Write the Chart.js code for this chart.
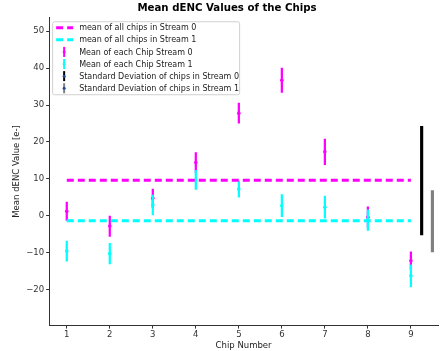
<!DOCTYPE html>
<html>
<head>
<meta charset="UTF-8">
<title>Mean dENC Values of the Chips</title>
<script src="https://cdn.jsdelivr.net/npm/chart.js"></script>
<style>
  body { margin: 0; background: #fff; }
  #wrap { width: 442px; height: 351px; }
</style>
</head>
<body>
<div id="wrap"><canvas id="c" width="442" height="351"></canvas></div>
<script>
// data
var chips = [1, 2, 3, 4, 5, 6, 7, 8, 9];
var mean0 = [1.2, -2.8, 4.7, 14.4, 27.8, 36.7, 17.3, -0.4, -12.2];
var err0  = [2.5, 2.8, 2.5, 2.7, 2.7, 3.3, 3.5, 2.8, 2.4];
var mean1 = [-9.6, -10.3, 2.9, 9.7, 7.2, 2.7, 2.3, -1.2, -16.3];
var err1  = [2.7, 2.8, 2.7, 2.6, 2.2, 3.0, 3.0, 2.8, 3.0];
var allMean0 = 9.6;
var allMean1 = -1.4;
var stdX   = [9.25, 9.5];
var stdMid = [9.5, -1.5];
var stdHalf = [14.7, 8.3];
var yTicks = [-20, -10, 0, 10, 20, 30, 40, 50];
var xTicks = [1, 2, 3, 4, 5, 6, 7, 8, 9];

var legendItems = [
  { kind: "dash", color: "#ff00ff", text: "mean of all chips in Stream 0" },
  { kind: "dash", color: "#00ffff", text: "mean of all chips in Stream 1" },
  { kind: "err", color: "#ff00ff", text: "Mean of each Chip Stream 0" },
  { kind: "err", color: "#00ffff", text: "Mean of each Chip Stream 1" },
  { kind: "err", color: "#000000", dot: "#1f4e9a", text: "Standard Deviation of chips in Stream 0" },
  { kind: "err", color: "#808080", dot: "#1f4e9a", text: "Standard Deviation of chips in Stream 1" }
];

function errData(m, e) {
  return chips.map(function (x, i) { return { x: x, y: [m[i] - e[i], m[i] + e[i]] }; });
}
function ptData(m) {
  return chips.map(function (x, i) { return { x: x, y: m[i] }; });
}

// matplotlib-like legend drawn on the canvas
var legendPlugin = {
  id: "mplLegend",
  afterDraw: function (chart) {
    var ctx = chart.ctx, a = chart.chartArea;
    var x0 = a.left + 3, y0 = a.top + 4, w = 187, h = 73, rowH = 12.1;
    ctx.save();
    ctx.fillStyle = "rgba(255,255,255,0.8)";
    ctx.strokeStyle = "#d0d0d0";
    ctx.lineWidth = 1;
    ctx.beginPath();
    ctx.roundRect(x0 + 0.5, y0 + 0.5, w, h, 2);
    ctx.fill();
    ctx.stroke();
    ctx.font = "8px 'DejaVu Sans'";
    ctx.textBaseline = "middle";
    legendItems.forEach(function (it, i) {
      var cy = y0 + 6.5 + i * rowH;
      if (it.kind === "dash") {
        ctx.strokeStyle = it.color;
        ctx.lineWidth = 3;
        ctx.setLineDash([7, 4]);
        ctx.beginPath();
        ctx.moveTo(x0 + 4, cy);
        ctx.lineTo(x0 + 21, cy);
        ctx.stroke();
        ctx.setLineDash([]);
      } else {
        ctx.strokeStyle = it.color;
        ctx.lineWidth = 2;
        ctx.beginPath();
        ctx.moveTo(x0 + 12, cy - 5);
        ctx.lineTo(x0 + 12, cy + 5);
        ctx.stroke();
        ctx.fillStyle = it.dot || it.color;
        ctx.beginPath();
        ctx.arc(x0 + 12, cy, 1.5, 0, Math.PI * 2);
        ctx.fill();
      }
      ctx.fillStyle = "#222";
      ctx.fillText(it.text, x0 + 27, cy + 0.5);
    });
    ctx.restore();
  }
};

var errBar = { type: "bar", grouped: false, barThickness: 1.6 };
function bar(extra) { return Object.assign({}, errBar, extra); }

var ctx = document.getElementById("c").getContext("2d");
new Chart(ctx, {
  data: {
    datasets: [
      { type: "line", data: [{ x: chips[0], y: allMean0 }, { x: chips[8], y: allMean0 }],
        borderColor: "#ff00ff", borderWidth: 3, borderDash: [7, 4], pointRadius: 0, order: 1 },
      { type: "line", data: [{ x: chips[0], y: allMean1 }, { x: chips[8], y: allMean1 }],
        borderColor: "#00ffff", borderWidth: 3, borderDash: [7, 4], pointRadius: 0, order: 1 },
      bar({ data: errData(mean0, err0), backgroundColor: "#ff00ff", order: 3 }),
      bar({ data: errData(mean1, err1), backgroundColor: "#00ffff", order: 2 }),
      { type: "scatter", data: ptData(mean0), backgroundColor: "#ff00ff", borderWidth: 0, pointRadius: 1.8, order: 3 },
      { type: "scatter", data: ptData(mean1), backgroundColor: "#00ffff", borderWidth: 0, pointRadius: 1.8, order: 2 },
      bar({ data: [{ x: stdX[0], y: [stdMid[0] - stdHalf[0], stdMid[0] + stdHalf[0]] }],
        backgroundColor: "#000000", barThickness: 2.5, order: 0 }),
      bar({ data: [{ x: stdX[1], y: [stdMid[1] - stdHalf[1], stdMid[1] + stdHalf[1]] }],
        backgroundColor: "#808080", barThickness: 2.5, order: 0 })
    ]
  },
  options: {
    responsive: false,
    animation: false,
    layout: { padding: { left: 12, right: 0, top: 0, bottom: 0 } },
    plugins: {
      legend: { display: false },
      tooltip: { enabled: false },
      title: {
        display: true,
        text: "Mean dENC Values of the Chips",
        color: "#000",
        font: { family: "DejaVu Sans", size: 10.2, weight: "bold" },
        padding: { top: 2, bottom: 3 }
      }
    },
    scales: {
      x: {
        type: "linear",
        min: 0.59, max: 9.63,
        offset: false,
        afterBuildTicks: function (s) { s.ticks = xTicks.map(function (v) { return { value: v }; }); },
        ticks: { color: "#333", font: { family: "DejaVu Sans", size: 8.5 }, padding: 1, maxRotation: 0 },
        grid: { display: true, offset: false, drawOnChartArea: false, tickLength: 3, color: "#333" },
        border: { color: "#333", width: 1 },
        title: { display: true, text: "Chip Number", color: "#222", font: { family: "DejaVu Sans", size: 8.5 }, padding: { top: 0, bottom: 0 } }
      },
      y: {
        type: "linear",
        min: -29.8, max: 53.8,
        afterBuildTicks: function (s) { s.ticks = yTicks.map(function (v) { return { value: v }; }); },
        ticks: {
          color: "#333", font: { family: "DejaVu Sans", size: 8.5 }, padding: 2,
          callback: function (v) { return v < 0 ? "\u2212" + Math.abs(v) : String(v); }
        },
        grid: { display: true, offset: false, drawOnChartArea: false, tickLength: 3, color: "#333" },
        border: { color: "#333", width: 1 },
        title: { display: true, text: "Mean dENC Value [e-]", color: "#222", font: { family: "DejaVu Sans", size: 8.5 }, padding: { top: 0, bottom: 2 } }
      }
    }
  },
  plugins: [legendPlugin]
});
</script>
</body>
</html>
